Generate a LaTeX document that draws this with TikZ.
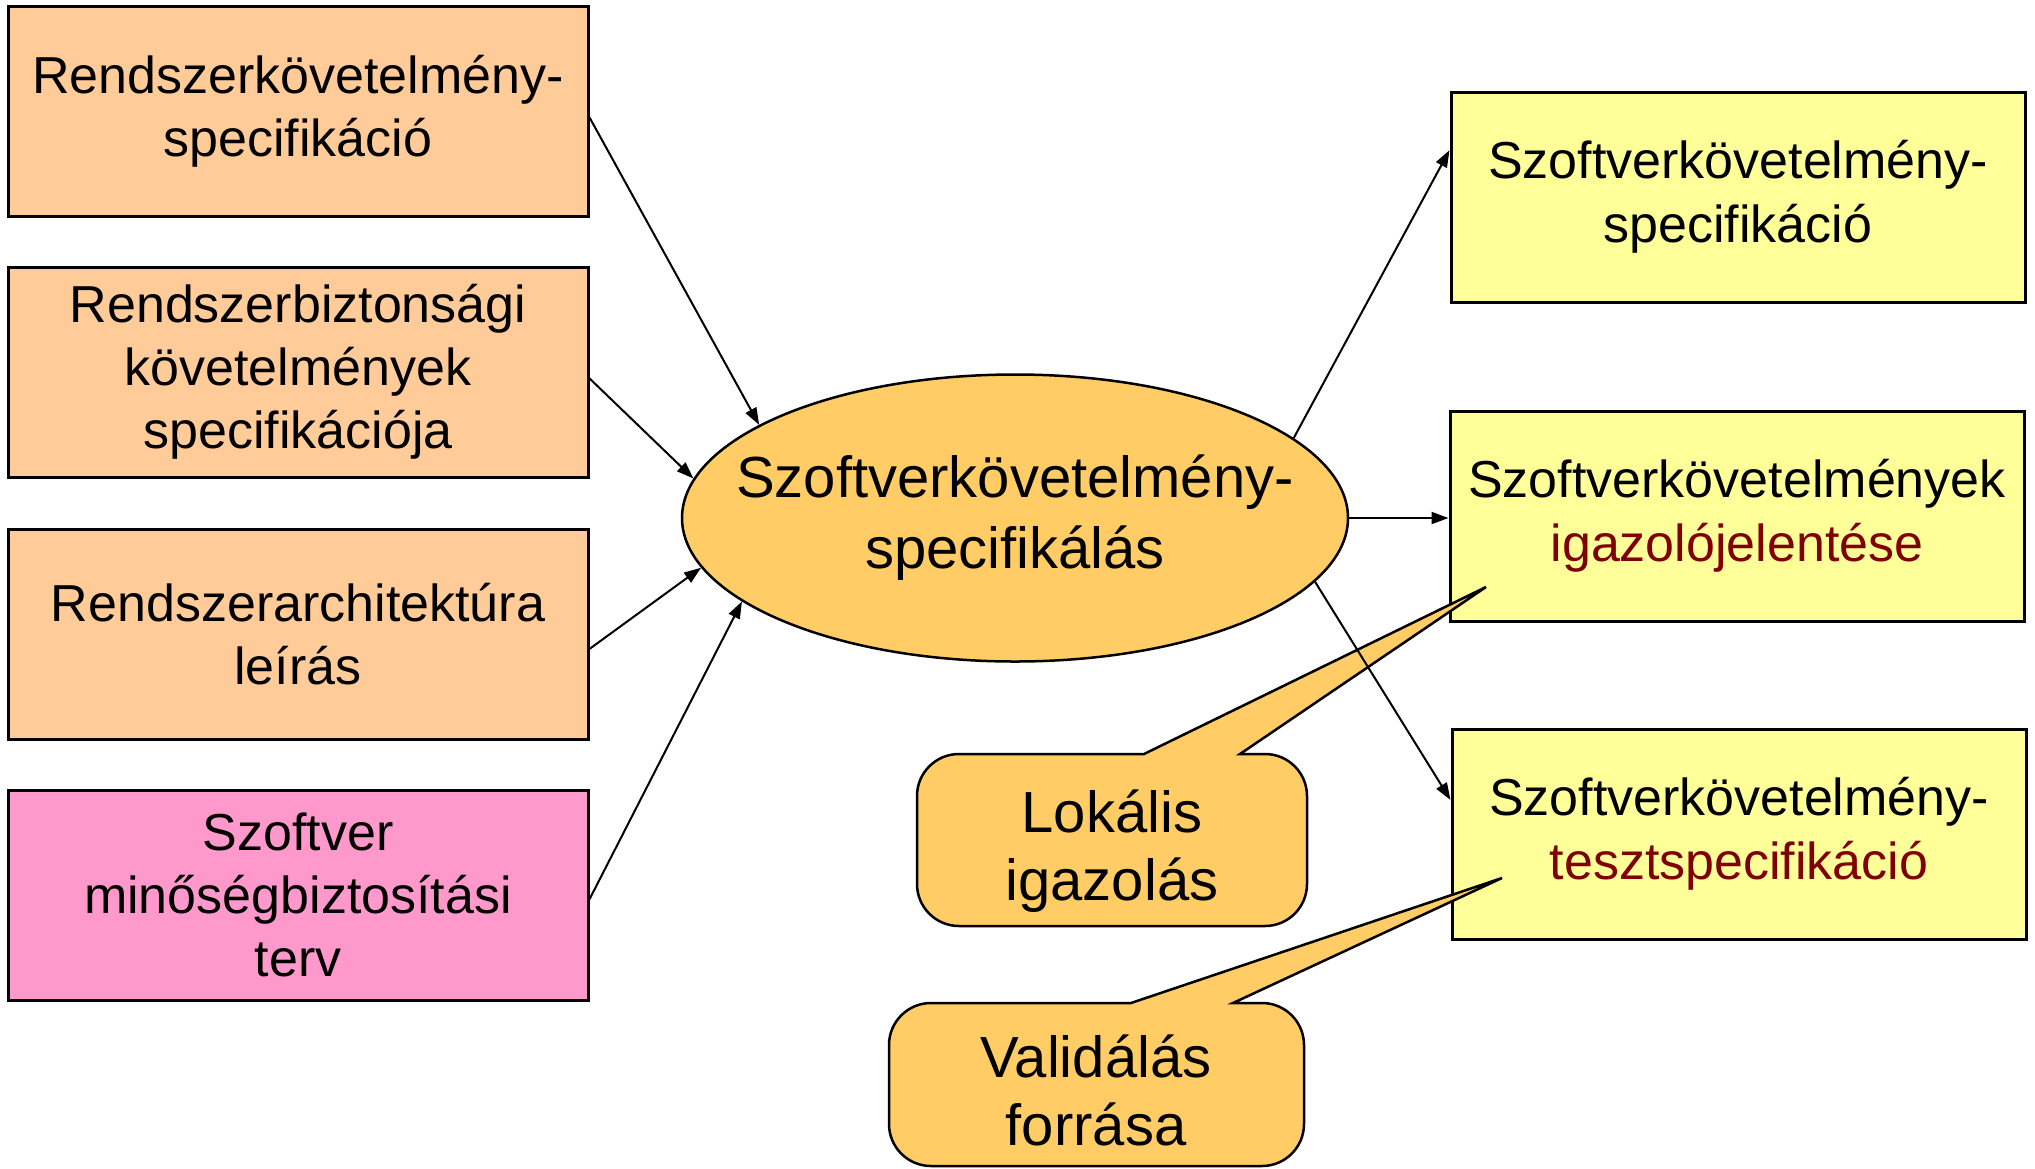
\documentclass[tikz,border=0pt]{standalone}
\usepackage{fontspec}
\setmainfont{Liberation Sans}
\usetikzlibrary{arrows.meta,shapes.geometric,calc}
\definecolor{peach}{HTML}{FFCC99}
\definecolor{pinkbox}{HTML}{FF99CC}
\definecolor{orangefill}{HTML}{FFCC66}
\definecolor{yellowbox}{HTML}{FFFF99}
\definecolor{darkred}{HTML}{800000}
\begin{document}
\begin{tikzpicture}[x=1pt,y=-1pt,
  box/.style={draw=black, line width=3pt, inner sep=0pt, align=center},
  leftbox/.style={box, fill=peach, minimum width=580pt, minimum height=210pt, font=\fontsize{52}{63}\selectfont, execute at begin node={\rule{0pt}{51pt}}},
  rightbox/.style={box, fill=yellowbox, minimum width=574pt, minimum height=210pt, font=\fontsize{52}{64}\selectfont, execute at begin node={\rule{0pt}{52pt}}},
  callout/.style={draw=black, line width=2.5pt, fill=orangefill},
  callt/.style={align=center, inner sep=0pt, font=\fontsize{58}{68}\selectfont},
  conn/.style={line width=2pt, -{Triangle[length=17pt,width=12pt]}}
]
\fill[white] (0,0) rectangle (2035,1168);
\useasboundingbox (0,0) rectangle (2035,1168);

% left boxes
\node[leftbox] (b1) at (298,111) {Rendszerkövetelmény-\\specifikáció};
\node[leftbox] (b2) at (298,372) {Rendszerbiztonsági\\követelmények\\specifikációja};
\node[leftbox] (b3) at (298,634) {Rendszerarchitektúra\\leírás};
\node[leftbox, fill=pinkbox] (b4) at (298,895) {Szoftver\\minőségbiztosítási\\terv};

% right boxes
\node[rightbox] (r1) at (1738,197) {Szoftverkövetelmény-\\specifikáció};
\node[rightbox] (r2) at (1737,516) {Szoftverkövetelmények\\\textcolor{darkred}{igazolójelentése}};
\node[rightbox] (r3) at (1739,834) {Szoftverkövetelmény-\\\textcolor{darkred}{tesztspecifikáció}};

% central ellipse
\node[ellipse, draw=black, line width=2.5pt, fill=orangefill, minimum width=666pt, minimum height=287pt, inner sep=0pt] (ell) at (1015,518) {};
\node[align=center, inner sep=0pt, font=\fontsize{58}{71}\selectfont, execute at begin node={\rule{0pt}{52.5pt}}] (ellt) at (1015,518) {Szoftverkövetelmény-\\specifikálás};

% callouts
\coordinate (tip1) at (1486,587);
\coordinate (tip2) at (1502,878);
\draw[callout] (959,754) -- (1144,754) -- (tip1) -- (1240,754) -- (1265,754)
  arc[start angle=-90, end angle=0, radius=42] -- (1307,884)
  arc[start angle=0, end angle=90, radius=42] -- (959,926)
  arc[start angle=90, end angle=180, radius=42] -- (917,796)
  arc[start angle=180, end angle=270, radius=42] -- cycle;
\draw[callout] (931,1003) -- (1131,1003) -- (tip2) -- (1233,1003) -- (1262,1003)
  arc[start angle=-90, end angle=0, radius=42] -- (1304,1124)
  arc[start angle=0, end angle=90, radius=42] -- (931,1166)
  arc[start angle=90, end angle=180, radius=42] -- (889,1045)
  arc[start angle=180, end angle=270, radius=42] -- cycle;
\node[callt] (c1t) at (1112,851) {Lokális\\igazolás};
\node[callt] (c2t) at (1096,1090) {Validálás\\forrása};

% connectors
\draw[conn] ($(b1.north east)!0.53!(b1.south east)$) -- (ell.160);
\draw[conn] ($(b2.north east)!0.53!(b2.south east)$) -- (ell.173);
\draw[conn] ($(b3.north east)!0.57!(b3.south east)$) -- (ell.189);
\draw[conn] ($(b4.north east)!0.52!(b4.south east)$) -- (ell.197);
\draw[conn] (ell.16) -- ($(r1.north west)!0.28!(r1.south west)$);
\draw[conn] (ell.0) -- (ell.0 -| r2.west);
\draw[conn] (ell.348) -- ($(r3.north west)!0.34!(r3.south west)$);
\end{tikzpicture}
\end{document}
